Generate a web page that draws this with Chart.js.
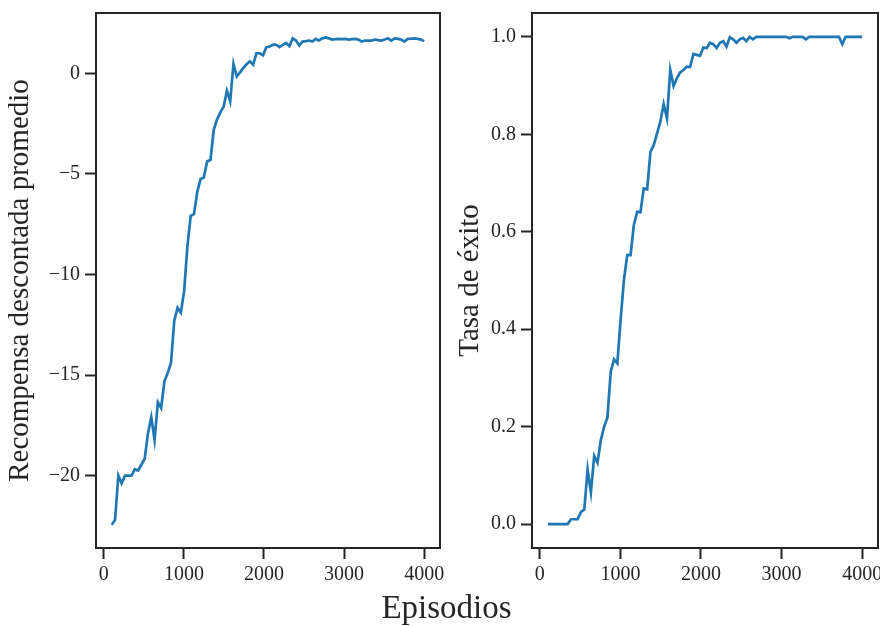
<!DOCTYPE html>
<html>
<head>
<meta charset="utf-8">
<script src="https://cdn.jsdelivr.net/npm/chart.js@4.4.0/dist/chart.umd.min.js"></script>
<style>
  body { margin: 0; background: #fff; }
  #wrap { position: relative; width: 880px; height: 626px; overflow: hidden; }
  #c1 { position: absolute; left: 0; top: 0; }
  #c2 { position: absolute; left: 450px; top: 0; }
  #xlabel { position: absolute; left: 0; width: 893px; top: 591px; text-align: center;
            font-family: 'Liberation Serif', serif; font-size: 33px; line-height: 33px; color: #262626; }
</style>
</head>
<body>
<div id="wrap">
  <canvas id="c1" width="450" height="626"></canvas>
  <canvas id="c2" width="430" height="626"></canvas>
  <div id="xlabel">Episodios</div>
</div>
<script>
// episodios de evaluacion
var episodios = [100,141,182,223,264,305,346,387,428,469,
  511,552,593,634,675,716,757,798,839,880,
  921,962,1003,1044,1085,1126,1167,1208,1249,1290,
  1332,1373,1414,1455,1496,1537,1578,1619,1660,1701,
  1742,1783,1824,1865,1906,1947,1988,2029,2071,2112,
  2153,2194,2235,2276,2317,2358,2399,2440,2481,2522,
  2563,2604,2645,2686,2727,2768,2809,2850,2892,2933,
  2974,3015,3056,3097,3138,3179,3220,3261,3302,3343,
  3384,3425,3466,3507,3548,3589,3631,3672,3713,3754,
  3795,3836,3877,3918,3959,4000];

// recompensa descontada promedio
var recompensa = [-22.45,-22.2,-20.0,-20.38,-20.0,-20.0,-20.0,-19.68,-19.75,-19.46,
  -19.16,-17.89,-17.1,-18.22,-16.36,-16.64,-15.31,-14.9,-14.4,-12.3,
  -11.66,-11.9,-10.83,-8.6,-7.09,-7.0,-5.9,-5.26,-5.18,-4.38,
  -4.3,-2.8,-2.3,-1.94,-1.66,-0.86,-1.4,0.47,-0.16,0.05,
  0.27,0.45,0.6,0.43,1.0,1.0,0.9,1.3,1.33,1.43,
  1.42,1.3,1.42,1.51,1.35,1.74,1.63,1.38,1.58,1.6,
  1.63,1.58,1.71,1.63,1.74,1.79,1.74,1.68,1.7,1.71,
  1.7,1.71,1.68,1.7,1.71,1.68,1.58,1.63,1.63,1.63,
  1.68,1.65,1.63,1.68,1.74,1.63,1.74,1.71,1.68,1.58,
  1.71,1.72,1.74,1.71,1.68,1.6];

// tasa de exito
var exito = [0,0,0,0,0,0,0,0.01,0.01,0.01,
  0.025,0.03,0.112,0.065,0.14,0.126,0.172,0.2,0.219,0.313,
  0.338,0.33,0.42,0.501,0.552,0.552,0.614,0.641,0.64,0.689,
  0.687,0.764,0.778,0.802,0.826,0.862,0.833,0.932,0.899,0.915,
  0.927,0.932,0.939,0.938,0.965,0.963,0.961,0.978,0.977,0.988,
  0.985,0.977,0.988,0.991,0.98,0.999,0.995,0.988,0.995,0.998,
  0.991,1,0.995,1,1,1,1,1,1,1,
  1,1,1,0.997,1,1,1,1,0.995,1,
  1,1,1,1,1,1,1,1,1,0.985,
  1,1,1,1,1,1];

// marcas de los ejes
var ticksX = [0, 1000, 2000, 3000, 4000];
var ticksRecompensa = [-20, -15, -10, -5, 0];
var ticksExito = [0, 0.2, 0.4, 0.6, 0.8, 1.0];

var gris = '#262626';
Chart.defaults.font.family = "'Liberation Serif', serif";
Chart.defaults.color = gris;

// marco completo alrededor del area del grafico
var marco = {
  id: 'marco',
  afterDraw: function(chart) {
    var ctx = chart.ctx, a = chart.chartArea;
    ctx.save();
    ctx.strokeStyle = gris;
    ctx.lineWidth = 2;
    ctx.strokeRect(a.left, a.top, a.right - a.left, a.bottom - a.top);
    ctx.restore();
  }
};

function fijarTicks(lista) {
  return function(s) { s.ticks = lista.map(function(v) { return { value: v }; }); };
}

function dibujar(id, valores, ejeY, tituloY, anchoY, margenDer) {
  ejeY.title = { display: true, text: tituloY, font: { size: 29 }, color: gris, padding: { top: 3, bottom: 0 } };
  ejeY.grid = { drawOnChartArea: false, tickLength: 11, tickWidth: 2, tickColor: gris };
  ejeY.border = { display: false };
  ejeY.afterFit = function(s) { s.width = anchoY; s.paddingTop = 0; s.paddingBottom = 0; };
  return new Chart(document.getElementById(id), {
    type: 'line',
    data: {
      datasets: [{
        data: episodios.map(function(e, i) { return { x: e, y: valores[i] }; }),
        borderColor: '#1f77b4',
        borderWidth: 2.7,
        pointRadius: 0,
        tension: 0
      }]
    },
    options: {
      responsive: false,
      animation: false,
      layout: { padding: { top: 13, right: margenDer, left: 0, bottom: 0 } },
      plugins: { legend: { display: false }, tooltip: { enabled: false } },
      scales: {
        x: {
          type: 'linear', min: -97, max: 4197,
          afterBuildTicks: fijarTicks(ticksX),
          ticks: { maxRotation: 0, padding: 4, autoSkip: false,
                   font: { size: 20 }, color: gris,
                   callback: function(v) { return String(v); } },
          grid: { drawOnChartArea: false, tickLength: 11, tickWidth: 2, tickColor: gris },
          border: { display: false },
          afterFit: function(s) { s.height = 78; s.paddingLeft = 0; s.paddingRight = 0; }
        },
        y: ejeY
      }
    },
    plugins: [marco]
  });
}

dibujar('c1', recompensa, {
  min: -23.6, max: 3.0,
  afterBuildTicks: fijarTicks(ticksRecompensa),
  ticks: { padding: 5, autoSkip: false, font: { size: 20 }, color: gris,
           callback: function(v) { return v < 0 ? '\u2212' + Math.abs(v) : String(v); } }
}, 'Recompensa descontada promedio', 96, 10);

dibujar('c2', exito, {
  min: -0.049, max: 1.049,
  afterBuildTicks: fijarTicks(ticksExito),
  ticks: { padding: 5, autoSkip: false, font: { size: 20 }, color: gris,
           callback: function(v) { return v.toFixed(1); } }
}, 'Tasa de éxito', 82, 2);
</script>
</body>
</html>
